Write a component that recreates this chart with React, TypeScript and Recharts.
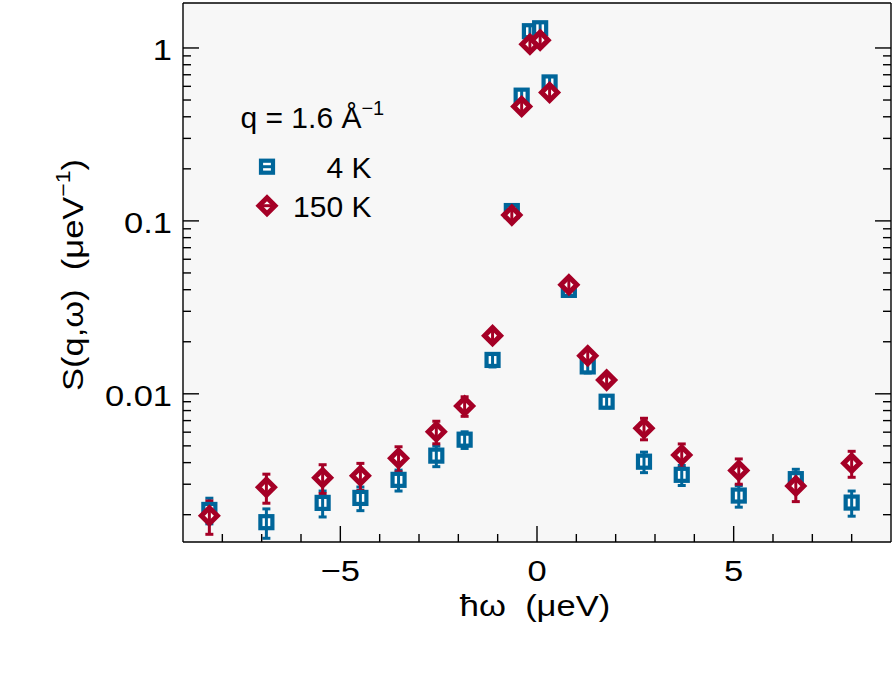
import React from 'react';
import { ScatterChart, Scatter, XAxis, YAxis, ErrorBar, CartesianGrid, Legend } from 'recharts';

const BLUE = '#00669a';
const RED = '#a50026';
const FONT = '"Liberation Sans", Arial, Helvetica, sans-serif';
// axis texts in the original are a bit wider than Liberation Sans
const SX = 1.15;

// energy transfer (ueV), shared by both temperatures
const OMEGA = [-8.33, -6.88, -5.45, -4.49, -3.52, -2.56, -1.84, -1.13, -0.64, -0.39, -0.18, 0.08, 0.32, 0.81, 1.29, 1.77, 2.72, 3.68, 5.13, 6.58, 8.0];

const S_4K = [0.00213, 0.00181, 0.00234, 0.0025, 0.00318, 0.00439, 0.00543, 0.0157, 0.114, 0.53, 1.25, 1.3, 0.632, 0.0399, 0.0144, 0.009, 0.00405, 0.0034, 0.00258, 0.00321, 0.00235];
const ERR_4K = [0.00036, 0.00035, 0.0004, 0.00039, 0.00044, 0.0006, 0.0006, 0.0014, 0.008, 0.03, 0.05, 0.05, 0.03, 0.002, 0.0012, 0.0007, 0.00055, 0.00045, 0.00037, 0.00045, 0.00039];

const S_150K = [0.00197, 0.00288, 0.00327, 0.00336, 0.00424, 0.00604, 0.00851, 0.0217, 0.108, 0.459, 1.05, 1.11, 0.553, 0.0427, 0.0166, 0.012, 0.00632, 0.00443, 0.0036, 0.00293, 0.00397];
const ERR_150K = [0.00043, 0.00055, 0.00062, 0.0006, 0.0007, 0.0009, 0.0011, 0.0015, 0.006, 0.02, 0.04, 0.04, 0.025, 0.002, 0.001, 0.0008, 0.0009, 0.0007, 0.0006, 0.00055, 0.00068];

const SERIES_NAMES = ['4 K', '150 K'];

const X_TICKS = [-8, -7, -6, -5, -4, -3, -2, -1, 0, 1, 2, 3, 4, 5, 6, 7, 8];
const X_MAJOR = [-5, 0, 5];
const Y_TICKS = [
  0.002, 0.003, 0.004, 0.005, 0.006, 0.007, 0.008, 0.009, 0.01,
  0.02, 0.03, 0.04, 0.05, 0.06, 0.07, 0.08, 0.09, 0.1,
  0.2, 0.3, 0.4, 0.5, 0.6, 0.7, 0.8, 0.9, 1,
];
const Y_MAJOR = [0.01, 0.1, 1];

const data4K = OMEGA.map((x, i) => ({ x, y: S_4K[i], err: ERR_4K[i] }));
const data150K = OMEGA.map((x, i) => ({ x, y: S_150K[i], err: ERR_150K[i] }));

const fmtX = (v: number) => (v < 0 ? '\u2212' + Math.abs(v) : String(v));

const AxisText = ({ x, y, anchor, children }: any) => (
  <text
    transform={`translate(${x},${y}) scale(${SX},1)`}
    textAnchor={anchor}
    fontSize={30}
    fontFamily={FONT}
    fill="#000"
  >
    {children}
  </text>
);

const tickLine = { stroke: '#000', strokeWidth: 1.4 };

const BottomTick = (props: any) => {
  const { x, y, payload } = props;
  const major = X_MAJOR.includes(payload.value);
  return (
    <g>
      <line x1={x} y1={y} x2={x} y2={y - (major ? 16 : 8)} {...tickLine} />
      {major && <AxisText x={x} y={y + 39} anchor="middle">{fmtX(payload.value)}</AxisText>}
    </g>
  );
};

const TopTick = (props: any) => {
  const { x, y, payload } = props;
  const major = X_MAJOR.includes(payload.value);
  return <line x1={x} y1={y} x2={x} y2={y + (major ? 16 : 8)} {...tickLine} />;
};

const LeftTick = (props: any) => {
  const { x, y, payload } = props;
  const major = Y_MAJOR.includes(payload.value);
  return (
    <g>
      <line x1={x} y1={y} x2={x + (major ? 16 : 8)} y2={y} {...tickLine} />
      {major && <AxisText x={x - 11} y={y + 12} anchor="end">{String(payload.value)}</AxisText>}
    </g>
  );
};

const RightTick = (props: any) => {
  const { x, y, payload } = props;
  const major = Y_MAJOR.includes(payload.value);
  return <line x1={x} y1={y} x2={x - (major ? 16 : 8)} y2={y} {...tickLine} />;
};

const Square = ({ cx, cy, color, bar }: any) => (
  <g>
    <rect x={cx - 6} y={cy - 6} width={12} height={12} fill="#fff" stroke={color} strokeWidth={4.2} />
    {bar === 'h' ? (
      <line x1={cx - 6} y1={cy} x2={cx + 6} y2={cy} stroke={color} strokeWidth={3} />
    ) : (
      <line x1={cx} y1={cy - 6} x2={cx} y2={cy + 6} stroke={color} strokeWidth={3} />
    )}
  </g>
);

const Diamond = ({ cx, cy, color, bar }: any) => {
  const r = 8;
  return (
    <g>
      <polygon
        points={`${cx},${cy - r} ${cx + r},${cy} ${cx},${cy + r} ${cx - r},${cy}`}
        fill="#fff"
        stroke={color}
        strokeWidth={5}
      />
      {bar === 'h' ? (
        <line x1={cx - r} y1={cy} x2={cx + r} y2={cy} stroke={color} strokeWidth={3} />
      ) : (
        <line x1={cx} y1={cy - r} x2={cx} y2={cy + r} stroke={color} strokeWidth={3} />
      )}
    </g>
  );
};

const renderLegend = (props: any) => {
  const payload = props.payload ?? [];
  return (
    <svg width={180} height={140} style={{ display: 'block', overflow: 'visible' }}>
      <text x={12.5} y={38.3} fontSize={30} fontFamily={FONT} fill="#000">
        q = 1.6 Å<tspan dy={-13.3} fontSize={20}>{'\u22121'}</tspan>
      </text>
      {payload.map((entry: any) => {
        const i = Math.max(0, SERIES_NAMES.indexOf(entry.value));
        const cy = 76.7 + i * 39;
        const color = entry.color || (i === 0 ? BLUE : RED);
        return (
          <g key={entry.value}>
            {i === 0 ? <Square cx={39} cy={cy} color={color} bar="h" /> : <Diamond cx={39} cy={cy} color={color} bar="h" />}
            <text x={143.5} y={cy + 11.6} textAnchor="end" fontSize={30} fontFamily={FONT} fill="#000">
              {entry.value}
            </text>
          </g>
        );
      })}
    </svg>
  );
};

const renderYTitle = () => (
  <text
    transform={`translate(83,275) rotate(-90) scale(${SX},1)`}
    textAnchor="middle"
    fontSize={30}
    fontFamily={FONT}
    fill="#000"
    style={{ whiteSpace: 'pre' }}
  >
    {'S(q,\u03c9)  (\u03bceV'}
    <tspan dy={-13} fontSize={20}>{'\u22121'}</tspan>
    <tspan dy={13}>)</tspan>
  </text>
);

const renderXTitle = () => (
  <AxisText x={535} y={616} anchor="middle">
    <tspan style={{ whiteSpace: 'pre' }}>{'\u0127\u03c9  (\u03bceV)'}</tspan>
  </AxisText>
);

export default function App() {
  return (
    <div style={{ position: 'absolute', left: 0, top: 0 }}>
      <ScatterChart width={896} height={688} margin={{ top: 0, right: 0, bottom: 0, left: 0 }}>
        <CartesianGrid fill="#f7f7f7" stroke="none" horizontal={false} vertical={false} />
        <XAxis
          dataKey="x"
          type="number"
          domain={[-9, 9]}
          allowDataOverflow
          ticks={X_TICKS}
          interval={0}
          height={146}
          tickSize={0}
          tickMargin={0}
          tickLine={false}
          tick={BottomTick}
          axisLine={{ stroke: '#000', strokeWidth: 1.4 }}
          label={renderXTitle}
        />
        <XAxis
          xAxisId="top"
          orientation="top"
          type="number"
          domain={[-9, 9]}
          allowDataOverflow
          ticks={X_TICKS}
          interval={0}
          height={3}
          tickSize={0}
          tickMargin={0}
          tickLine={false}
          tick={TopTick}
          axisLine={{ stroke: '#000', strokeWidth: 1.4 }}
        />
        <YAxis
          dataKey="y"
          type="number"
          scale="log"
          domain={[0.00139, 1.82]}
          allowDataOverflow
          ticks={Y_TICKS}
          interval={0}
          width={183}
          tickSize={0}
          tickMargin={0}
          tickLine={false}
          tick={LeftTick}
          axisLine={{ stroke: '#000', strokeWidth: 1.4 }}
          label={renderYTitle}
        />
        <YAxis
          yAxisId="right"
          orientation="right"
          type="number"
          scale="log"
          domain={[0.00139, 1.82]}
          allowDataOverflow
          ticks={Y_TICKS}
          interval={0}
          width={5}
          tickSize={0}
          tickMargin={0}
          tickLine={false}
          tick={RightTick}
          axisLine={{ stroke: '#000', strokeWidth: 1.4 }}
        />
        <Legend
          layout="vertical"
          align="center"
          verticalAlign="middle"
          content={renderLegend}
          wrapperStyle={{ left: 228, top: 90, width: 180, height: 140 }}
        />
        <Scatter
          name={SERIES_NAMES[0]}
          data={data4K}
          fill={BLUE}
          isAnimationActive={false}
          shape={(p: any) => <Square cx={p.cx} cy={p.cy} color={BLUE} />}
        >
          <ErrorBar dataKey="err" direction="y" width={4} strokeWidth={3} stroke={BLUE} isAnimationActive={false} />
        </Scatter>
        <Scatter
          name={SERIES_NAMES[1]}
          data={data150K}
          fill={RED}
          isAnimationActive={false}
          shape={(p: any) => <Diamond cx={p.cx} cy={p.cy} color={RED} />}
        >
          <ErrorBar dataKey="err" direction="y" width={4} strokeWidth={3} stroke={RED} isAnimationActive={false} />
        </Scatter>
      </ScatterChart>
    </div>
  );
}
